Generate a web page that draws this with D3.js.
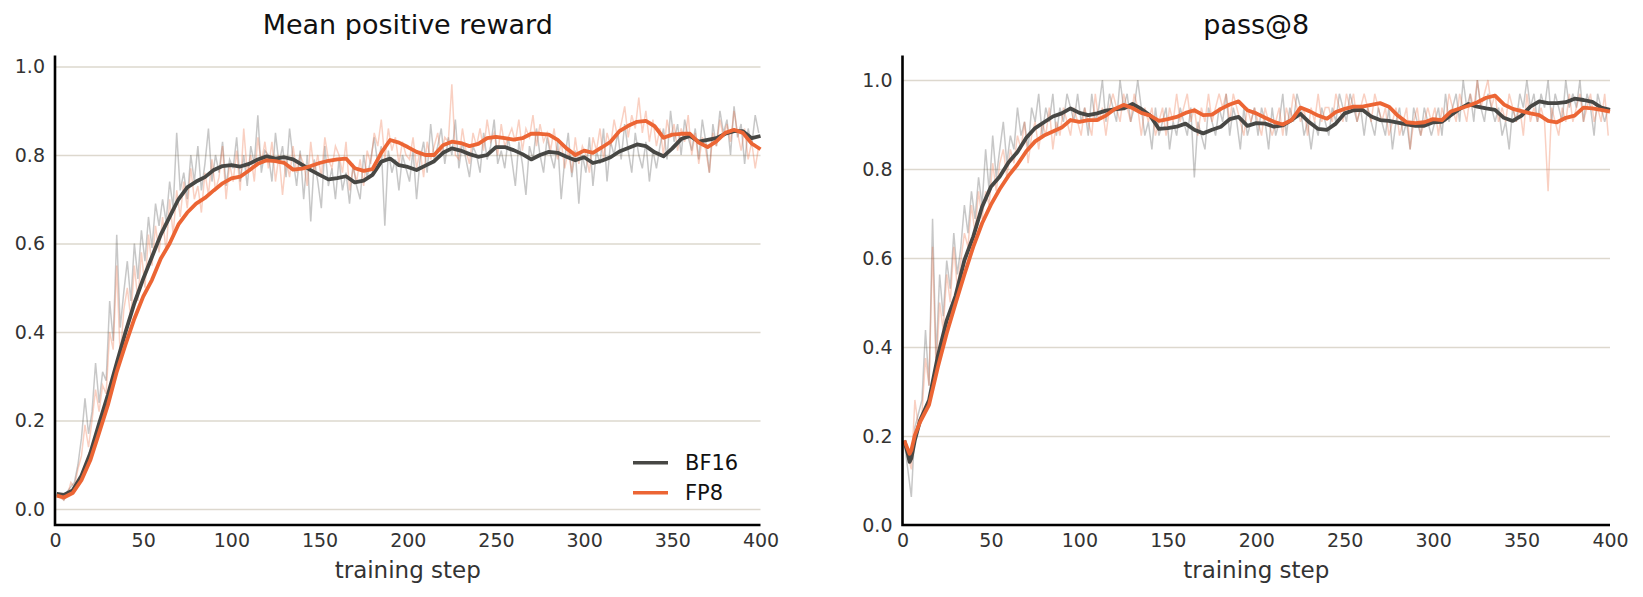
<!DOCTYPE html>
<html>
<head>
<meta charset="utf-8">
<script src="https://cdn.jsdelivr.net/npm/d3@7"></script>
<style>
  html, body { margin: 0; padding: 0; background: #fff; }
  svg { display: block; font-family: "DejaVu Sans", sans-serif; }
</style>
</head>
<body>
<div id="chart"></div>
<script>
// ---- data ----
var xTicks = [0, 50, 100, 150, 200, 250, 300, 350, 400];
var yTicks = [0.0, 0.2, 0.4, 0.6, 0.8, 1.0];
var seriesNames = ["BF16", "FP8"];

// raw (per step) values, every other step
var rawSteps = d3.range(1, 400, 2);

var rewardRawBF16 = [
  0.035, 0.03, 0.02, 0.04, 0.05, 0.06, 0.10, 0.16, 0.25, 0.17,
  0.22, 0.33, 0.24, 0.31, 0.29, 0.47, 0.38, 0.62, 0.41, 0.49,
  0.56, 0.47, 0.60, 0.52, 0.63, 0.56, 0.66, 0.59, 0.69, 0.64,
  0.70, 0.65, 0.74, 0.68, 0.85, 0.72, 0.76, 0.70, 0.80, 0.74,
  0.82, 0.72, 0.78, 0.86, 0.74, 0.80, 0.76, 0.83, 0.73, 0.79,
  0.77, 0.84, 0.74, 0.80, 0.73, 0.82, 0.78, 0.89, 0.76, 0.81,
  0.80, 0.74, 0.85, 0.78, 0.82, 0.75, 0.86, 0.79, 0.73, 0.81,
  0.70, 0.80, 0.65, 0.79, 0.74, 0.68, 0.82, 0.73, 0.77, 0.70,
  0.79, 0.72, 0.76, 0.69, 0.78, 0.73, 0.70, 0.80, 0.75, 0.79,
  0.84, 0.78, 0.82, 0.64, 0.81, 0.76, 0.79, 0.72, 0.80, 0.77,
  0.74, 0.81, 0.70, 0.79, 0.83, 0.76, 0.87, 0.79, 0.82, 0.86,
  0.78, 0.84, 0.80, 0.88, 0.77, 0.83, 0.79, 0.75, 0.82, 0.80,
  0.76, 0.85, 0.79, 0.82, 0.88, 0.78, 0.81, 0.77, 0.84, 0.79,
  0.73, 0.83, 0.78, 0.71, 0.82, 0.79, 0.86, 0.80, 0.76, 0.84,
  0.80, 0.77, 0.83, 0.70, 0.79, 0.85, 0.75, 0.81, 0.69, 0.80,
  0.76, 0.84, 0.73, 0.81, 0.78, 0.86, 0.74, 0.83, 0.80, 0.85,
  0.79, 0.87, 0.81, 0.76, 0.85, 0.80, 0.77, 0.83, 0.74, 0.81,
  0.77, 0.82, 0.86, 0.79, 0.90, 0.83, 0.87, 0.80, 0.88, 0.84,
  0.81, 0.86, 0.79, 0.88, 0.83, 0.76, 0.87, 0.82, 0.90, 0.85,
  0.88, 0.80, 0.91, 0.84, 0.87, 0.78, 0.86, 0.82, 0.89, 0.85
];
var rewardRawFP8 = [
  0.03, 0.025, 0.02, 0.03, 0.06, 0.05, 0.09, 0.12, 0.19, 0.14,
  0.20, 0.27, 0.22, 0.28, 0.26, 0.40, 0.36, 0.55, 0.34, 0.45,
  0.50, 0.43, 0.55, 0.47, 0.58, 0.50, 0.62, 0.55, 0.64, 0.58,
  0.66, 0.58, 0.70, 0.62, 0.72, 0.66, 0.74, 0.68, 0.77, 0.70,
  0.73, 0.67, 0.76, 0.71, 0.79, 0.72, 0.75, 0.82, 0.70, 0.78,
  0.74, 0.81, 0.72, 0.86, 0.76, 0.80, 0.74, 0.84, 0.78, 0.83,
  0.77, 0.83, 0.74, 0.80, 0.71, 0.79, 0.75, 0.82, 0.76, 0.80,
  0.78, 0.73, 0.83, 0.76, 0.80, 0.75, 0.84, 0.79, 0.77, 0.82,
  0.80, 0.76, 0.83, 0.72, 0.77, 0.74, 0.79, 0.73, 0.81, 0.78,
  0.85, 0.82, 0.88, 0.79, 0.86, 0.81, 0.84, 0.78, 0.83, 0.80,
  0.79, 0.84, 0.77, 0.81, 0.75, 0.83, 0.79, 0.82, 0.85, 0.80,
  0.84, 0.83, 0.96, 0.80, 0.79, 0.86, 0.81, 0.78, 0.85, 0.82,
  0.86, 0.81, 0.88, 0.83, 0.85, 0.80, 0.87, 0.82, 0.84, 0.86,
  0.83, 0.88, 0.81, 0.86, 0.84, 0.89, 0.82, 0.87, 0.83, 0.85,
  0.81, 0.86, 0.79, 0.83, 0.77, 0.81, 0.76, 0.84, 0.78, 0.82,
  0.80, 0.76, 0.84, 0.81, 0.86, 0.79, 0.85, 0.82, 0.88, 0.84,
  0.87, 0.91, 0.84, 0.89, 0.86, 0.93, 0.85, 0.90, 0.83, 0.88,
  0.82, 0.86, 0.80, 0.88, 0.84, 0.87, 0.81, 0.86, 0.83, 0.89,
  0.80, 0.85, 0.78, 0.84, 0.81, 0.76, 0.85, 0.82, 0.88, 0.84,
  0.87, 0.83, 0.90, 0.85, 0.81, 0.86, 0.79, 0.83, 0.77, 0.82
];
var passRawBF16 = [
  0.188, 0.125, 0.063, 0.219, 0.25, 0.281, 0.438, 0.313, 0.688, 0.375,
  0.563, 0.469, 0.594, 0.531, 0.656, 0.563, 0.625, 0.719, 0.656, 0.75,
  0.688, 0.781, 0.719, 0.844, 0.75, 0.875, 0.781, 0.844, 0.906, 0.813,
  0.875, 0.844, 0.938, 0.875, 0.906, 0.844, 0.938, 0.906, 0.969, 0.875,
  0.938, 0.906, 0.969, 0.875, 0.938, 0.906, 0.969, 0.938, 0.906, 0.969,
  0.906, 0.938, 0.875, 0.969, 0.906, 0.938, 1.0, 0.906, 0.969, 0.938,
  0.906, 1.0, 0.938, 0.969, 0.906, 0.938, 1.0, 0.938, 0.875, 0.906,
  0.844, 0.938, 0.875, 0.906, 0.938, 0.844, 0.906, 0.875, 0.938, 0.906,
  0.875, 0.938, 0.781, 0.906, 0.875, 0.844, 0.938, 0.906, 0.875, 0.938,
  0.906, 0.969, 0.875, 0.938, 0.906, 0.844, 0.938, 0.875, 0.906, 0.938,
  0.875, 0.938, 0.906, 0.844, 0.938, 0.875, 0.906, 0.969, 0.875, 0.938,
  0.906, 0.969, 0.938, 0.875, 0.906, 0.844, 0.906, 0.875, 0.938, 0.906,
  0.875, 0.938, 0.906, 0.969, 0.938, 0.906, 0.969, 0.938, 0.906, 0.938,
  0.875, 0.938, 0.906, 0.875, 0.938, 0.906, 0.875, 0.938, 0.844, 0.906,
  0.938, 0.875, 0.906, 0.844, 0.938, 0.906, 0.875, 0.938, 0.906, 0.875,
  0.906, 0.938, 0.875, 0.969, 0.906, 0.938, 0.969, 0.906, 1.0, 0.938,
  0.969, 0.906, 1.0, 0.938, 0.906, 0.969, 0.938, 0.906, 0.938, 0.875,
  0.906, 0.844, 0.938, 0.906, 0.969, 0.938, 1.0, 0.938, 0.969, 0.906,
  0.969, 0.938, 1.0, 0.906, 0.969, 0.938, 0.906, 1.0, 0.938, 0.969,
  0.938, 1.0, 0.906, 0.969, 0.938, 0.875, 0.969, 0.938, 0.906, 0.938
];
var passRawFP8 = [
  0.188, 0.156, 0.125, 0.281, 0.219, 0.25, 0.375, 0.313, 0.625, 0.344,
  0.5, 0.438, 0.563, 0.5, 0.625, 0.531, 0.594, 0.656, 0.625, 0.719,
  0.656, 0.75, 0.688, 0.75, 0.719, 0.813, 0.75, 0.813, 0.844, 0.781,
  0.844, 0.813, 0.875, 0.844, 0.906, 0.813, 0.875, 0.906, 0.844, 0.906,
  0.875, 0.938, 0.844, 0.906, 0.875, 0.938, 0.906, 0.875, 0.938, 0.906,
  0.875, 0.938, 0.906, 0.875, 0.969, 0.906, 0.938, 0.875, 0.938, 0.969,
  0.938, 0.906, 0.969, 0.938, 0.906, 0.969, 0.938, 0.875, 0.938, 0.906,
  0.938, 0.875, 0.906, 0.938, 0.875, 0.938, 0.906, 0.969, 0.906, 0.938,
  0.969, 0.906, 0.938, 0.875, 0.938, 0.906, 0.969, 0.906, 0.938, 0.969,
  0.938, 0.969, 0.906, 0.969, 0.938, 0.906, 0.875, 0.938, 0.906, 0.938,
  0.906, 0.875, 0.938, 0.906, 0.875, 0.906, 0.938, 0.875, 0.938, 0.906,
  0.969, 0.938, 0.906, 0.938, 0.875, 0.938, 0.906, 0.969, 0.906, 0.938,
  0.938, 0.906, 0.969, 0.938, 0.906, 0.969, 0.938, 0.969, 0.906, 0.938,
  0.969, 0.938, 0.906, 0.969, 0.938, 0.906, 0.938, 0.875, 0.906, 0.938,
  0.875, 0.906, 0.938, 0.844, 0.906, 0.938, 0.875, 0.906, 0.938, 0.906,
  0.938, 0.875, 0.938, 0.906, 0.969, 0.938, 0.906, 0.969, 0.938, 0.906,
  0.969, 0.938, 1.0, 0.938, 0.969, 1.0, 0.938, 0.969, 0.906, 0.938,
  0.906, 0.969, 0.938, 0.906, 0.938, 0.875, 0.969, 0.906, 0.938, 0.906,
  0.938, 0.906, 0.75, 0.938, 0.906, 0.875, 0.938, 0.906, 0.969, 0.906,
  0.938, 0.969, 0.906, 0.938, 0.969, 0.906, 0.938, 0.906, 0.969, 0.875
];

// smoothed curves
var rewardSmoothSteps = [1].concat(d3.range(5, 401, 5));
var rewardSmoothBF16 = [
  0.034, 0.032, 0.042, 0.075, 0.126, 0.193, 0.258, 0.33, 0.40, 0.465,
  0.52, 0.57, 0.62, 0.66, 0.70, 0.727, 0.74, 0.75, 0.766, 0.775,
  0.777, 0.774, 0.78, 0.79, 0.797, 0.792, 0.795, 0.79, 0.778, 0.766,
  0.755, 0.745, 0.748, 0.752, 0.738, 0.742, 0.755, 0.785, 0.792, 0.777,
  0.773, 0.766, 0.776, 0.786, 0.805, 0.815, 0.81, 0.802, 0.796, 0.80,
  0.818, 0.818, 0.811, 0.802, 0.79, 0.80, 0.807, 0.805, 0.796, 0.788,
  0.795, 0.782, 0.787, 0.795, 0.808, 0.816, 0.824, 0.82, 0.806, 0.797,
  0.815, 0.836, 0.843, 0.83, 0.834, 0.838, 0.848, 0.854, 0.854, 0.838,
  0.843
];
var rewardSmoothFP8 = [
  0.03, 0.026, 0.036, 0.065, 0.11, 0.172, 0.235, 0.31, 0.372, 0.43,
  0.48, 0.518, 0.566, 0.60, 0.643, 0.67, 0.69, 0.703, 0.72, 0.736,
  0.747, 0.751, 0.765, 0.78, 0.788, 0.786, 0.782, 0.767, 0.769, 0.775,
  0.782, 0.787, 0.79, 0.792, 0.77, 0.764, 0.768, 0.805, 0.834, 0.828,
  0.818, 0.807, 0.80, 0.80, 0.822, 0.83, 0.827, 0.82, 0.825, 0.838,
  0.841, 0.838, 0.835, 0.838, 0.848, 0.848, 0.846, 0.834, 0.815, 0.80,
  0.81, 0.805, 0.817, 0.83, 0.854, 0.866, 0.875, 0.877, 0.865, 0.839,
  0.846, 0.848, 0.848, 0.828, 0.818, 0.831, 0.85, 0.857, 0.85, 0.826,
  0.813
];

var passSmoothSteps = [1, 3, 4, 5, 7].concat(d3.range(10, 401, 5));
var passSmoothBF16 = [
  0.19, 0.16, 0.142, 0.15, 0.191,
  0.236, 0.28, 0.38, 0.46, 0.515, 0.595, 0.648, 0.715, 0.76, 0.783,
  0.815, 0.838, 0.87, 0.892, 0.905, 0.918, 0.925, 0.936, 0.926, 0.921,
  0.925, 0.931, 0.934, 0.936, 0.946, 0.935, 0.92, 0.89, 0.892, 0.895,
  0.902, 0.888, 0.88, 0.888, 0.895, 0.912, 0.917, 0.897, 0.903, 0.902,
  0.895, 0.898, 0.91, 0.924, 0.905, 0.89, 0.888, 0.902, 0.925, 0.932,
  0.933, 0.918, 0.91, 0.908, 0.904, 0.9, 0.897, 0.897, 0.905, 0.906,
  0.921, 0.935, 0.946, 0.94, 0.936, 0.933, 0.915, 0.908, 0.92, 0.94,
  0.952, 0.948, 0.948, 0.95, 0.958, 0.955, 0.951, 0.938, 0.933
];
var passSmoothFP8 = [
  0.19, 0.17, 0.16, 0.168, 0.202,
  0.232, 0.27, 0.355, 0.431, 0.498, 0.563, 0.625, 0.678, 0.72, 0.755,
  0.785, 0.81, 0.84, 0.862, 0.875, 0.884, 0.893, 0.91, 0.906, 0.91,
  0.91, 0.92, 0.935, 0.944, 0.937, 0.926, 0.92, 0.908, 0.912, 0.917,
  0.926, 0.932, 0.921, 0.922, 0.935, 0.945, 0.952, 0.932, 0.925, 0.915,
  0.906, 0.9, 0.91, 0.938, 0.93, 0.92, 0.913, 0.928, 0.935, 0.94,
  0.94, 0.944, 0.948, 0.94, 0.92, 0.905, 0.903, 0.905, 0.912, 0.91,
  0.929, 0.936, 0.942, 0.95, 0.96, 0.965, 0.945, 0.935, 0.93, 0.925,
  0.921, 0.908, 0.905, 0.915, 0.92, 0.938, 0.936, 0.933, 0.929
];

// ---- drawing ----
var colors = { BF16: "#474744", FP8: "#ec6534" };
var width = 1643, height = 597;

var svg = d3.select("#chart")
    .append("svg")
    .attr("width", width)
    .attr("height", height);

function zip(steps, values) {
    return steps.map(function(s, i) { return { step: s, value: values[i] }; });
}

function drawPanel(cfg) {
    var x = d3.scaleLinear().domain([0, 400]).range([cfg.left, cfg.right]);
    var y = d3.scaleLinear().domain(cfg.yDomain).range([525, 55.5]);
    var g = svg.append("g");

    // horizontal grid + y tick labels
    var yAxis = g.append("g")
        .attr("transform", "translate(" + cfg.left + ",0)")
        .call(d3.axisLeft(y)
            .tickValues(yTicks)
            .tickFormat(d3.format(".1f"))
            .tickSize(-(cfg.right - cfg.left))
            .tickPadding(10));
    yAxis.select(".domain").remove();
    yAxis.selectAll(".tick line")
        .attr("stroke", "#ddd8ce")
        .attr("stroke-width", 1.4);
    yAxis.selectAll(".tick text")
        .attr("fill", "#333")
        .style("font-family", "DejaVu Sans")
        .style("font-size", "19px");

    // x tick labels
    var xAxis = g.append("g")
        .attr("transform", "translate(0,525)")
        .call(d3.axisBottom(x).tickValues(xTicks).tickSize(0).tickPadding(9));
    xAxis.select(".domain").remove();
    xAxis.selectAll(".tick text")
        .attr("fill", "#333")
        .style("font-family", "DejaVu Sans")
        .style("font-size", "19px");

    var line = d3.line()
        .x(function(d) { return x(d.step); })
        .y(function(d) { return y(d.value); });

    // raw traces, faint
    cfg.raw.forEach(function(r) {
        g.append("path")
            .datum(zip(rawSteps, r.values))
            .attr("fill", "none")
            .attr("stroke", colors[r.name])
            .attr("stroke-opacity", 0.3)
            .attr("stroke-width", 1.5)
            .attr("d", line);
    });
    // smoothed traces
    cfg.smooth.forEach(function(r) {
        g.append("path")
            .datum(zip(cfg.smoothSteps, r.values))
            .attr("fill", "none")
            .attr("stroke", colors[r.name])
            .attr("stroke-width", 3.8)
            .attr("stroke-linejoin", "round")
            .attr("d", line);
    });

    // spines (left + bottom)
    g.append("path")
        .attr("d", "M" + cfg.left + ",55.5V525H" + cfg.right)
        .attr("fill", "none")
        .attr("stroke", "#000")
        .attr("stroke-width", 2.6);

    g.append("text")
        .attr("x", (cfg.left + cfg.right) / 2)
        .attr("y", 34)
        .attr("text-anchor", "middle")
        .attr("fill", "#111")
        .style("font-size", "27px")
        .text(cfg.title);

    g.append("text")
        .attr("x", (cfg.left + cfg.right) / 2)
        .attr("y", 578)
        .attr("text-anchor", "middle")
        .attr("fill", "#333")
        .style("font-size", "23px")
        .text("training step");

    return { x: x, y: y, g: g };
}

var left = drawPanel({
    left: 55, right: 760.5,
    yDomain: [-0.0362, 1.0249],
    title: "Mean positive reward",
    smoothSteps: rewardSmoothSteps,
    raw: [{ name: "BF16", values: rewardRawBF16 }, { name: "FP8", values: rewardRawFP8 }],
    smooth: [{ name: "BF16", values: rewardSmoothBF16 }, { name: "FP8", values: rewardSmoothFP8 }]
});

drawPanel({
    left: 902.5, right: 1610,
    yDomain: [0, 1.055],
    title: "pass@8",
    smoothSteps: passSmoothSteps,
    raw: [{ name: "BF16", values: passRawBF16 }, { name: "FP8", values: passRawFP8 }],
    smooth: [{ name: "BF16", values: passSmoothBF16 }, { name: "FP8", values: passSmoothFP8 }]
});

// legend in the left panel
var legend = left.g.selectAll(".legend")
    .data(seriesNames)
    .join("g")
    .attr("class", "legend")
    .attr("transform", function(d, i) { return "translate(633," + (462.7 + i * 30) + ")"; });
legend.append("line")
    .attr("x1", 0).attr("x2", 35)
    .attr("stroke", function(d) { return colors[d]; })
    .attr("stroke-width", 3.6);
legend.append("text")
    .attr("x", 52)
    .attr("dy", "0.36em")
    .attr("fill", "#111")
    .style("font-size", "21px")
    .text(function(d) { return d; });
</script>
</body>
</html>
